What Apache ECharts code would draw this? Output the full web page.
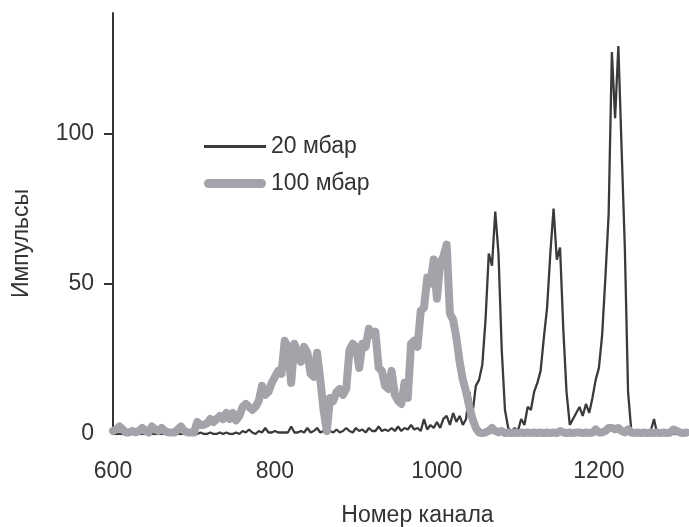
<!DOCTYPE html>
<html><head><meta charset="utf-8">
<script src="https://cdn.jsdelivr.net/npm/echarts@6/dist/echarts.min.js"></script>
<style>html,body{margin:0;padding:0;background:#fff}#c{width:689px;height:527px}</style>
</head><body><div id="c"></div>
<script>
// channel numbers (step 4)
const channels = [];
for (let c = 600; c <= 1308; c += 4) channels.push(c);

// 20 mbar counts, one per channel above
const counts20 = [
 0,0,0,0,0,0,0,0,0,0, 0,0,0,0,0,0,0,0,0,0, 0,0,0,0,0,          // 600-696
 0,0,0.5,0,0,0.5,0,0,0.5,0, 0.5,0,0,0.5,0,1,0.5,1.5,0.5,0,     // 700-776
 1,0.5,2,0.5,0.5,1,0.5,0.5,0.5,0.5, 2.5,0.5,0.5,1,0.5,2,0.5,1,2,0.5, // 780-856
 1,0.5,1,0.5,1.5,0.5,1,2,1,0.5, 2,1,1.5,0.5,2,1,1,2.5,1,1.5,  // 860-936
 1,2,1,2.5,1,2,1.5,3,1.5,2, 1,5,1.5,3,2,4,2,5,6,3,            // 940-1016
 7,4,6,3,5,14,7,16,18,23, 38,60,56,74,60,28,8,2,1,2,          // 1020-1096
 1,5,3,9,8,14,17,21,32,42, 60,75,58,62,35,14,3,5,7,9,         // 1100-1176
 6,10,7,12,18,22,33,52,73,127, 105,129,95,62,14,1,0.5,0,0,0,  // 1180-1256
 0,1,5,0,0,0,0,0,0,0, 0,0,0                                   // 1260-1308
];

// 100 mbar counts, one per channel above
const counts100 = [
 1,1.5,2.5,1.5,0.5,0.5,1,0.5,1,2, 1,0.5,2.5,1.5,1,2,1,0.5,0.5,0.5, 1.5,2.5,1,0.5,0.5,   // 600-696
 0.5,4,3,3,3.5,5,4,5,6,5, 7,5,7,4.5,6,9,10,9,8,9,                                      // 700-776
 11,16,13,14,17,19,21,20,31,29, 17,30,27,24,29,27,20,19,27,18,                          // 780-856
 8,1,12,11,14,15,13,15,28,30, 29,22,30,29,35,33,34,22,21,16,                            // 860-936
 15,21,13,11,10,17,12,30,31,29, 41,42,52,50,58,45,57,59,63,40,                          // 940-1016
 38,32,24,18,14,9,5,2,0.5,0.3, 0.5,1,2,1,0.5,1,0.3,0.5,0.3,0.5,                         // 1020-1096
 0.3,0.5,0.3,0.5,0.3,0.5,0.3,0.5,0.3,0.5, 0.3,0.5,0.3,1,0.5,0.3,0.5,0.3,0.5,0.5,        // 1100-1176
 0.3,0.5,0.3,0.5,1.5,0.5,0.5,1,2,2, 1.5,2,1,0.5,1.5,0.5,0.3,0.5,0.3,0.5,                // 1180-1256
 0.3,0.5,0.3,0.5,0.3,0.5,0.3,0.5,1.5,1, 0.5,0.3,0.5                                     // 1260-1308
];

const seriesNames = ['20 мбар', '100 мбар'];
const xTicks = [600, 800, 1000, 1200];
const yTicks = [0, 50, 100];

const pairs = (ys) => channels.map((c, i) => [c, ys[i]]);
const font = '"Liberation Sans", Arial, sans-serif';
const FS = 23;
const chart = echarts.init(document.getElementById('c'), null, {renderer: 'canvas'});
chart.setOption({
  animation: false,
  backgroundColor: '#fff',
  grid: {left: 113, top: 13, right: 1, bottom: 93, containLabel: false, outerBoundsMode: 'none'},
  legend: {
    orient: 'vertical', left: 199, top: 130, itemWidth: 62, itemHeight: 10, itemGap: 14,
    symbolKeepAspect: true,
    textStyle: {fontFamily: font, fontSize: FS, color: '#333', padding: [0,0,0,0]},
    data: [
      {name: seriesNames[0], icon: 'path://M0,0 H62 V3 H0 Z'},
      {name: seriesNames[1], icon: 'path://M4.5,0 H57.5 A4.5,4.5 0 0 1 57.5,9 H4.5 A4.5,4.5 0 0 1 4.5,0 Z'}
    ]
  },
  xAxis: {
    type: 'value', min: 600, max: 1310, interval: 200,
    axisLine: {show: false}, axisTick: {show: false}, splitLine: {show: false},
    axisLabel: {customValues: xTicks, formatter: v => String(v), fontFamily: font, fontSize: FS, color: '#333', margin: 26},
    name: 'Номер канала', nameLocation: 'middle', nameGap: 70,
    nameTextStyle: {fontFamily: font, fontSize: FS, color: '#333', padding: [0, 0, 0, 34]}
  },
  yAxis: {
    type: 'value', min: 0, max: 140, interval: 50,
    axisLine: {show: true, lineStyle: {color: '#333', width: 2}},
    axisTick: {show: true, customValues: [50, 100], length: 9, lineStyle: {color: '#333', width: 2}},
    splitLine: {show: false},
    axisLabel: {customValues: yTicks, formatter: v => String(v), fontFamily: font, fontSize: FS, color: '#333', margin: 19, padding: [7, 0, 0, 0]},
    name: 'Импульсы', nameLocation: 'middle', nameGap: 80,
    nameTextStyle: {fontFamily: font, fontSize: FS, color: '#333', padding: [0, 40, 0, 0]}
  },
  series: [
    {name: seriesNames[0], type: 'line', data: pairs(counts20), showSymbol: false, symbol: 'none',
     lineStyle: {color: '#3a3b3d', width: 2.3}, itemStyle: {color: '#3a3b3d'}, z: 2},
    {name: seriesNames[1], type: 'line', data: pairs(counts100), showSymbol: false, symbol: 'none',
     lineStyle: {color: '#a2a4a9', width: 8, cap: 'round', join: 'round'}, itemStyle: {color: '#a2a4a9'}, z: 3}
  ]
});
</script></body></html>
